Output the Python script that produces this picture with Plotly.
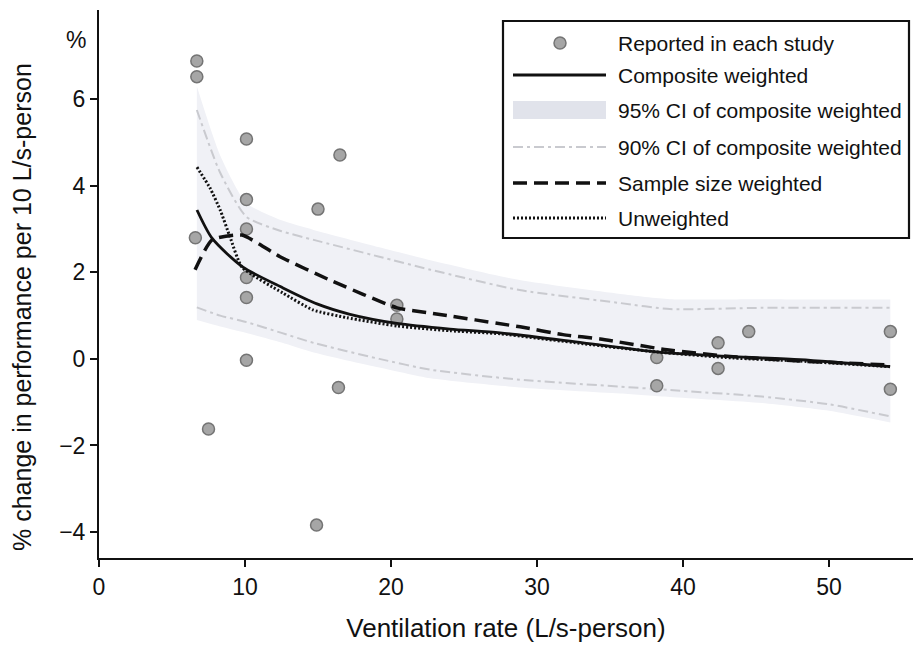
import plotly.graph_objects as go

# ---------------- data ----------------
study_x = [6.7, 6.7, 6.6, 7.5, 10.1, 10.1, 10.1, 10.1, 10.1, 10.1, 15.0, 16.5, 16.4, 14.9,
           20.4, 20.4, 38.2, 38.2, 42.4, 42.4, 44.5, 54.2, 54.2]
study_y = [6.88, 6.52, 2.80, -1.62, 5.08, 3.68, 3.00, 1.88, 1.42, -0.03, 3.46, 4.71, -0.66, -3.84,
           1.24, 0.92, 0.03, -0.62, 0.37, -0.22, 0.63, 0.63, -0.70]

comp_x = [6.71, 7.74, 9.86, 12.6, 14.93, 17.19, 20.41, 24.04, 27.47, 33.15, 38.22, 43.42, 48.01, 54.18]
comp_y = [3.44, 2.79, 2.12, 1.64, 1.27, 1.03, 0.82, 0.69, 0.60, 0.37, 0.16, 0.05, -0.02, -0.18]

samp_x = [6.58, 7.74, 9.79, 12.4, 15.82, 20.41, 22.67, 28.84, 31.78, 34.32, 38.9, 43.42, 48.01, 54.18]
samp_y = [2.06, 2.75, 2.86, 2.36, 1.82, 1.18, 1.06, 0.74, 0.56, 0.46, 0.21, 0.05, -0.05, -0.14]

unw_x = [6.71, 7.6, 8.3, 8.97, 9.79, 12.6, 14.66, 16.99, 20.41, 24.04, 27.47, 33.15, 38.22, 43.42, 48.01, 54.18]
unw_y = [4.43, 3.95, 3.44, 2.82, 2.12, 1.52, 1.13, 0.95, 0.76, 0.65, 0.58, 0.35, 0.16, 0.02, -0.05, -0.18]

ci_x = [6.7, 8.3, 10.1, 12.5, 14.7, 19.2, 22.7, 28.8, 35.7, 39.1, 45.4, 50.0, 54.2]
ci90_hi = [5.75, 4.30, 3.28, 2.95, 2.75, 2.36, 2.06, 1.59, 1.29, 1.15, 1.18, 1.18, 1.18]
ci90_lo = [1.19, 1.00, 0.85, 0.60, 0.37, 0.00, -0.25, -0.48, -0.64, -0.72, -0.87, -1.05, -1.33]
ci95_hi = [6.30, 4.70, 3.60, 3.20, 2.98, 2.58, 2.28, 1.82, 1.50, 1.38, 1.38, 1.37, 1.37]
ci95_lo = [0.90, 0.75, 0.60, 0.38, 0.15, -0.20, -0.45, -0.66, -0.80, -0.88, -1.02, -1.20, -1.47]

x_ticks = [0, 10, 20, 30, 40, 50]
y_ticks = [-4, -2, 0, 2, 4, 6]

legend_labels = ["Reported in each study", "Composite weighted", "95% CI of composite weighted",
                 "90% CI of composite weighted", "Sample size weighted", "Unweighted"]

FONT = "Liberation Sans, Arial, Helvetica, sans-serif"
BAND = "#f0f1f6"
CI90 = "#c9cacf"
DOT_FILL = "#a6a6a6"
DOT_LINE = "#747474"

fig = go.Figure()

# 95% CI band
fig.add_trace(go.Scatter(x=ci_x, y=ci95_hi, mode="lines", line=dict(width=0, color=BAND, shape="spline", smoothing=0.6),
                         showlegend=False, hoverinfo="skip"))
fig.add_trace(go.Scatter(x=ci_x, y=ci95_lo, mode="lines", line=dict(width=0, color=BAND, shape="spline", smoothing=0.6),
                         fill="tonexty", fillcolor=BAND, showlegend=False, hoverinfo="skip"))
# 90% CI lines
for arr in (ci90_hi, ci90_lo):
    fig.add_trace(go.Scatter(x=ci_x, y=arr, mode="lines",
                             line=dict(color=CI90, width=2, dash="10px,4px,3px,4px", shape="spline", smoothing=0.6),
                             showlegend=False, hoverinfo="skip"))
# study points
fig.add_trace(go.Scatter(x=study_x, y=study_y, mode="markers",
                         marker=dict(size=12, color=DOT_FILL, line=dict(color=DOT_LINE, width=1.5)),
                         showlegend=False))
# curves
fig.add_trace(go.Scatter(x=samp_x, y=samp_y, mode="lines",
                         line=dict(color="#111", width=3.5, dash="14px,7px", shape="spline", smoothing=0.5),
                         showlegend=False))
fig.add_trace(go.Scatter(x=unw_x, y=unw_y, mode="lines",
                         line=dict(color="#111", width=3, dash="2px,2px", shape="spline", smoothing=0.5),
                         showlegend=False))
fig.add_trace(go.Scatter(x=comp_x, y=comp_y, mode="lines",
                         line=dict(color="#111", width=2.8, shape="spline", smoothing=0.7), showlegend=False))

# ---------------- manual legend ----------------
L, T, B = 99, 10, 94
W, H = 913 - L, 652 - T - B


def px(xp):
    return (xp - L) / W


def py(yp):
    return (652 - B - yp) / H


shapes = []
annotations = []
shapes.append(dict(type="rect", xref="paper", yref="paper", x0=px(503), x1=px(909), y0=py(21), y1=py(238),
                   line=dict(color="#111", width=2.2), fillcolor="white", layer="above"))
rows = [43, 75, 110, 147, 183, 218]
sx0, sx1 = px(513), px(606)
shapes.append(dict(type="circle", xref="paper", yref="paper", x0=px(554), x1=px(566), y0=py(rows[0] - 6),
                   y1=py(rows[0] + 6), fillcolor=DOT_FILL, line=dict(color=DOT_LINE, width=1.5), layer="above"))
shapes.append(dict(type="line", xref="paper", yref="paper", x0=sx0, x1=sx1, y0=py(rows[1]), y1=py(rows[1]),
                   line=dict(color="#111", width=2.8), layer="above"))
shapes.append(dict(type="rect", xref="paper", yref="paper", x0=sx0, x1=sx1, y0=py(rows[2] - 9),
                   y1=py(rows[2] + 9), fillcolor="#e1e3eb", line=dict(width=0), layer="above"))
shapes.append(dict(type="line", xref="paper", yref="paper", x0=sx0, x1=sx1, y0=py(rows[3]), y1=py(rows[3]),
                   line=dict(color=CI90, width=2, dash="10px,4px,3px,4px"), layer="above"))
shapes.append(dict(type="line", xref="paper", yref="paper", x0=sx0, x1=sx1, y0=py(rows[4]), y1=py(rows[4]),
                   line=dict(color="#111", width=3.5, dash="14px,7px"), layer="above"))
shapes.append(dict(type="line", xref="paper", yref="paper", x0=sx0, x1=sx1, y0=py(rows[5]), y1=py(rows[5]),
                   line=dict(color="#111", width=3, dash="2px,2px"), layer="above"))
for r, lab in zip(rows, legend_labels):
    annotations.append(dict(text=lab, xref="paper", yref="paper", x=px(616), y=py(r), xanchor="left",
                            yanchor="middle", showarrow=False, font=dict(size=21, color="#111", family=FONT)))

# "%" unit label at top of the y axis
annotations.append(dict(text="%", xref="paper", yref="paper", x=px(88), y=py(40), xanchor="right",
                        yanchor="middle", showarrow=False, font=dict(size=23, color="#111", family=FONT)))
# y-axis title (placed as in the reference, slightly below the plot centre)
annotations.append(dict(text="% change in performance per 10 L/s-person", xref="paper", yref="paper",
                        x=px(22), y=py(307), xanchor="center", yanchor="middle", textangle=-90,
                        showarrow=False, font=dict(size=25, color="#111", family=FONT)))

fig.update_layout(
    width=913, height=652,
    margin=dict(l=L, r=0, t=T, b=B),
    paper_bgcolor="white", plot_bgcolor="white",
    font=dict(family=FONT, color="#111"),
    showlegend=False,
    shapes=shapes, annotations=annotations,
    xaxis=dict(range=[0, 55.75], tickvals=x_ticks, ticktext=[str(v) for v in x_ticks],
               showgrid=False, zeroline=False, showline=True, linecolor="#111", linewidth=2,
               ticks="outside", ticklen=7, tickwidth=1.5, tickcolor="#111",
               tickfont=dict(size=23, family=FONT, color="#111"),
               title=dict(text="Ventilation rate (L/s-person)", font=dict(size=26, family=FONT, color="#111"),
                          standoff=20)),
    yaxis=dict(range=[-4.6, 8.06], tickvals=y_ticks,
               ticktext=[("\u2212" + str(-v)) if v < 0 else str(v) for v in y_ticks],
               showgrid=False, zeroline=False, showline=True, linecolor="#111", linewidth=2,
               ticks="outside", ticklen=7, tickwidth=1.5, tickcolor="#111",
               tickfont=dict(size=23, family=FONT, color="#111")),
)

fig.write_html("out.html")
